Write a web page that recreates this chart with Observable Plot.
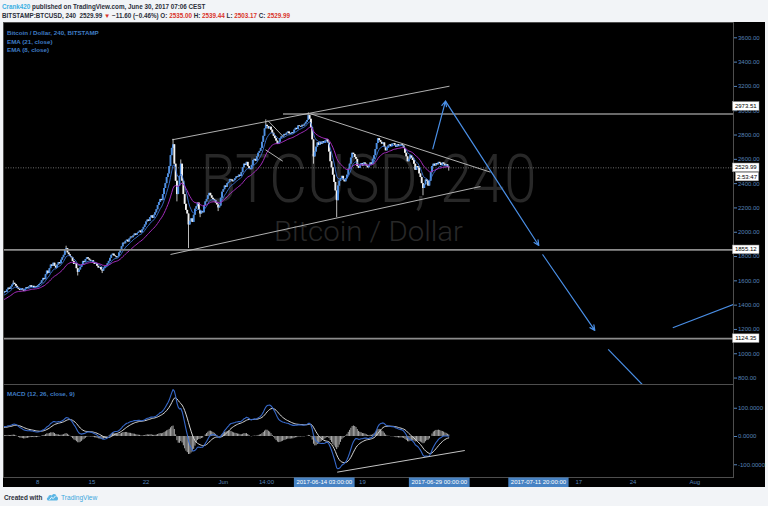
<!DOCTYPE html>
<html><head><meta charset="utf-8">
<script src="https://cdn.jsdelivr.net/npm/d3@7"></script>
<script src="https://cdn.jsdelivr.net/npm/@observablehq/plot@0.6"></script>
<style>
html,body{margin:0;padding:0;width:768px;height:506px;overflow:hidden;background:#f2f4f7;font-family:"Liberation Sans",Arial,sans-serif;}
.abs{position:absolute;white-space:nowrap;}
.hd{font-size:6.3px;font-weight:bold;color:#2a2e39;line-height:7px;}
.cy{color:#3bb0e3}
.rd{color:#d9342b}
.lg{font-size:6.2px;font-weight:bold;color:#3f7cc4;line-height:7px;}
#box{position:absolute;left:3px;top:22px;width:762px;height:465px;background:#000;}
#main{position:absolute;left:0;top:22px;}
#macd{position:absolute;left:0;top:384px;}
</style></head>
<body>
<div class="abs hd" style="left:2px;top:2.5px"><span class="cy">Crank420</span> published on TradingView.com, June 30, 2017 07:06 CEST</div>
<div class="abs hd" style="left:2px;top:12.3px">BITSTAMP:BTCUSD, 240&nbsp; 2529.99 <span class="rd">▼</span> −11.60 (−0.46%) O: <span class="rd">2535.00</span> H: <span class="rd">2539.44</span> L: <span class="rd">2503.17</span> C: <span class="rd">2529.99</span></div>
<div id="box"></div>
<div id="main"></div>
<div id="macd"></div>
<div class="abs lg" style="left:7px;top:28.8px;z-index:5">Bitcoin / Dollar, 240, BITSTAMP</div>
<div class="abs lg" style="left:7px;top:37.6px;z-index:5">EMA (21, close)</div>
<div class="abs lg" style="left:7px;top:46.4px;z-index:5">EMA (8, close)</div>
<div class="abs lg" style="left:7px;top:389.5px;z-index:5">MACD (12, 26, close, 9)</div>
<div class="abs hd" style="left:4px;top:493.5px;font-size:6.4px">Created with</div>
<svg class="abs" style="left:46px;top:492px" width="13" height="10" viewBox="0 0 13 10">
  <path d="M2.5,8.5 C0.5,8.5 0.3,5.6 2.3,5.2 C2.2,3 4.8,2.2 5.9,3.6 C6.8,1.4 10.3,1.6 10.4,4.4 C12.6,4.6 12.6,8.5 10.4,8.5 Z" fill="#5ab5e4"/>
  <path d="M3.5,7.8 L5.6,5.2 L7.2,6.6 L9.6,3.8" stroke="#fff" stroke-width="0.9" fill="none"/>
</svg>
<div class="abs" style="left:61px;top:493.5px;font-size:6.6px;color:#3aa7de;line-height:7px">TradingView</div>
<script>
// ---------- data ----------
const candleStart = "2017-05-03T12:00Z";      // first visible 4h candle
const warmupCloses = [1340,1355,1350,1345,1335,1330,1320,1325,1335,1340,1330,1345,1345,1350,1355,1348,1352,1350,1360,1375,1390,1410,1420,1425,1430,1440,1445,1450,1455,1460,1470,1465,1480,1475,1485,1490];
const closes = [
1495,1510,1505,1525,1540,1530,1550,1565,1580,1570,
1555,1540,1530,1520,1535,1525,1515,1530,1545,1540,
1550,1560,1545,1555,1540,1550,1545,1560,1570,1580,
1600,1620,1610,1650,1680,1660,1700,1730,1720,1745,
1720,1705,1730,1750,1740,1770,1790,1810,1850,1865,
1830,1815,1800,1790,1760,1735,1740,1700,1670,1690,
1710,1730,1760,1750,1775,1790,1780,1770,1760,1765,
1750,1735,1740,1720,1705,1710,1690,1680,1700,1715,
1725,1740,1760,1785,1810,1820,1805,1800,1790,1800,
1830,1855,1880,1910,1905,1925,1935,1920,1945,1960,
1955,1970,1985,1975,1990,2000,2010,1995,2020,2040,
2060,2085,2100,2090,2120,2135,2115,2140,2160,2185,
2220,2245,2270,2260,2310,2360,2400,2450,2480,2540,
2630,2690,2720,2560,2420,2310,2380,2460,2560,2420,
2310,2230,2180,2150,2060,2090,2110,2080,2140,2190,
2210,2240,2180,2150,2170,2160,2220,2250,2270,2300,
2320,2300,2280,2270,2260,2240,2225,2200,2215,2280,
2330,2350,2380,2370,2400,2410,2435,2430,2415,2425,
2440,2455,2450,2470,2460,2490,2530,2560,2550,2575,
2540,2525,2515,2550,2590,2600,2585,2620,2650,2665,
2690,2740,2790,2850,2880,2870,2850,2865,2840,2815,
2790,2770,2750,2725,2740,2770,2785,2790,2805,2800,
2815,2825,2810,2805,2820,2815,2840,2855,2845,2875,
2870,2865,2880,2875,2890,2905,2920,2960,2930,2860,
2760,2620,2660,2700,2735,2715,2740,2725,2745,2730,
2750,2760,2735,2660,2580,2530,2470,2410,2340,2260,
2380,2420,2440,2460,2430,2415,2440,2470,2520,2560,
2610,2650,2640,2615,2600,2540,2525,2550,2565,2545,
2570,2560,2545,2530,2550,2570,2560,2600,2630,2680,
2730,2770,2755,2740,2725,2735,2700,2670,2690,2710,
2720,2705,2725,2730,2715,2700,2720,2705,2715,2720,
2710,2690,2650,2620,2580,2600,2630,2610,2590,2560,
2510,2540,2530,2480,2450,2400,2360,2390,2430,2420,
2380,2420,2490,2540,2560,2545,2565,2555,2575,2565,
2550,2570,2560,2545,2555,2535,2529.99];
// notable wicks: candle index and the extreme price
const wickIdx   = [8,49,58,77,132,135,138,144,153,167,204,237,241,259,326,346,346];
const wickPrice = [1600,1885,1640,1660,2765,2250,2595,1866,2120,2170,2925,2982,2560,2120,2300,2539.44,2503.17];

const xDomain = ["2017-05-03T13:34Z","2017-08-06T00:04Z"];
const yDomain = [747,3726];
const yTicks = [800,1000,1200,1400,1600,1800,2000,2200,2400,2600,2800,3000,3200,3400,3600];
const macdDomain = [-145,184];
const macdTicks = [-100,0,100];
const xTickDates  = ["2017-05-08T00:00Z","2017-05-15T00:00Z","2017-05-22T00:00Z","2017-06-01T00:00Z","2017-06-06T14:00Z","2017-06-19T00:00Z","2017-07-17T00:00Z","2017-07-24T00:00Z","2017-08-01T00:00Z"];
const xTickLabels = ["8","15","22","Jun","14:00","19","17","24","Aug"];
const markedDates  = ["2017-06-14T03:00Z","2017-06-29T00:00Z","2017-07-11T20:00Z"];
const markedLabels = ["2017-06-14 03:00:00","2017-06-29 00:00:00","2017-07-11 20:00:00"];

const lastPrice = 2529.99;
const hLinePrices = [2973.51,1855.12,1124.35];
const hLineFrom   = ["2017-06-08T18:55Z","2017-05-01T00:00Z","2017-05-01T00:00Z"];
const boxPrices = [2973.51,2529.99,2529.99,1855.12,1124.35];
const boxTexts  = ["2973.51","2529.99","2:53:47","1855.12","1124.35"];
// drawn trend lines [date1, price1, date2, price2]
const grayLines = [
 ["2017-05-25T09:20Z",2760.8,"2017-06-30T06:15Z",3201.8],
 ["2017-05-25T04:04Z",1817.0,"2017-07-04T06:33Z",2376.5],
 ["2017-06-12T06:45Z",2974.7,"2017-07-05T13:36Z",2494.2],
 ["2017-06-06T18:10Z",2919.6,"2017-06-08T19:51Z",2782.2],
 ["2017-06-06T11:01Z",2678.5,"2017-06-08T16:44Z",2584.7]];
const blueArrows = [
 ["2017-06-28T02:27Z",2686.7,"2017-06-29T17:53Z",3078.4],
 ["2017-06-29T17:53Z",3078.4,"2017-07-11T19:34Z",1891.1],
 ["2017-07-12T07:58Z",1814.6,"2017-07-19T01:26Z",1191.7]];
const blueLines = [
 ["2017-07-20T19:02Z",1035.4,"2017-07-26T00:00Z",695],
 ["2017-07-29T03:36Z",1213.9,"2017-08-07T00:00Z",1430]];
const macdLine = [["2017-06-15T17:38Z",-126.1,"2017-07-02T05:48Z",-49.5]];
const wmMain = "BTCUSD, 240", wmSub = "Bitcoin / Dollar";

// ---------- build ----------
const H4 = 4*3600*1000, t0 = new Date(candleStart).getTime();
const all = warmupCloses.concat(closes), nW = warmupCloses.length;
const dates = all.map((c,i)=>new Date(t0+(i-nW)*H4));
const UP="#4c8fe4", DN="#f2f2f2", AXC="#5683b8";
const candles = closes.map((c,i)=>{const o = i===0?warmupCloses[nW-1]:closes[i-1];
  return {date:dates[i+nW],open:o,close:c,high:Math.max(o,c),low:Math.min(o,c),col:c>=o?UP:DN};});
wickIdx.forEach((k,j)=>{const c=candles[k];c.high=Math.max(c.high,wickPrice[j]);c.low=Math.min(c.low,wickPrice[j]);});
function ema(v,n){const k=2/(n+1);let e=v[0];return v.map((x,i)=>(e=i===0?x:x*k+e*(1-k)));}
const e21=ema(all,21), e8=ema(all,8), e12=ema(all,12), e26=ema(all,26);
const macd=e12.map((v,i)=>v-e26[i]); const sig=ema(macd,9);
const ser=(arr)=>arr.map((v,i)=>({date:dates[i],v}));
const hist=macd.map((v,i)=>({date:dates[i],v:v-sig[i]}));
const seg=(a)=>a.map(r=>({x1:new Date(r[0]),y1:r[1],x2:new Date(r[2]),y2:r[3]}));
const xd=xDomain.map(d=>new Date(d));
const font='"Liberation Sans",Arial,sans-serif';

const main = Plot.plot({
  width:768,height:362,marginLeft:3,marginRight:35,marginTop:0,marginBottom:0,
  style:{background:"transparent",fontFamily:font,fontSize:"6px",overflow:"visible"},
  x:{type:"utc",domain:xd,axis:null},
  y:{domain:yDomain},
  color:{type:"identity"},
  marks:[
    Plot.text([wmMain],{text:d=>d,frameAnchor:"middle",dy:-23,fontSize:66,fontFamily:"Roboto",fontWeight:300,fill:"#282828"}),
    Plot.text([wmSub],{text:d=>d,frameAnchor:"middle",dy:29,fontSize:27,fontFamily:"Roboto",fontWeight:300,fill:"#282828"}),
    Plot.ruleY([lastPrice],{stroke:"#8a8a8a",strokeWidth:0.8,strokeDasharray:"1,1.5"}),
    Plot.ruleX(candles,{x:"date",y1:"low",y2:"high",stroke:"#d0d0d0",strokeWidth:0.9,clip:true}),
    Plot.ruleX(candles,{x:"date",y1:"open",y2:"close",stroke:"col",strokeWidth:1.9,clip:true}),
    Plot.line(ser(e8),{x:"date",y:"v",stroke:"#3b74d6",strokeWidth:0.9,clip:true}),
    Plot.line(ser(e21),{x:"date",y:"v",stroke:"#a52dbf",strokeWidth:1,clip:true}),
    Plot.ruleY(hLinePrices.map((p,i)=>({p,x1:new Date(hLineFrom[i]),x2:xd[1]})),{y:"p",x1:"x1",x2:"x2",stroke:"#8c8c8c",strokeWidth:1.6,clip:true}),
    Plot.link(seg(grayLines),{x1:"x1",y1:"y1",x2:"x2",y2:"y2",stroke:"#c4c4c4",strokeWidth:0.9,clip:true}),
    Plot.arrow(seg(blueArrows),{x1:"x1",y1:"y1",x2:"x2",y2:"y2",stroke:"#4a8fe6",strokeWidth:1.2,headLength:7,headAngle:50,clip:true}),
    Plot.link(seg(blueLines),{x1:"x1",y1:"y1",x2:"x2",y2:"y2",stroke:"#4a8fe6",strokeWidth:1.2,clip:true}),
    Plot.frame({stroke:"#4e4e4e"}),
    Plot.axisY({anchor:"right",ticks:yTicks,tickFormat:d=>d.toFixed(2),tickSize:3,tickPadding:1.5,fontSize:6,color:AXC})
  ]
});
document.getElementById("main").appendChild(main);

const lbl=new Map(xTickDates.map((d,i)=>[+new Date(d),xTickLabels[i]]));
const macdPlot = Plot.plot({
  width:768,height:103,marginLeft:3,marginRight:35,marginTop:0,marginBottom:10,
  style:{background:"transparent",fontFamily:font,fontSize:"6px",overflow:"visible"},
  x:{type:"utc",domain:xd},
  y:{domain:macdDomain},
  marks:[
    Plot.ruleX(hist,{x:"date",y1:0,y2:"v",stroke:"#a9a9a9",strokeWidth:1,clip:true}),
    Plot.line(ser(sig),{x:"date",y:"v",stroke:"#d6d6d6",strokeWidth:1,clip:true}),
    Plot.line(ser(macd),{x:"date",y:"v",stroke:"#3668c9",strokeWidth:1.1,clip:true}),
    Plot.link(seg(macdLine),{x1:"x1",y1:"y1",x2:"x2",y2:"y2",stroke:"#c4c4c4",strokeWidth:1,clip:true}),
    Plot.frame({stroke:"#4e4e4e"}),
    Plot.axisY({anchor:"right",ticks:macdTicks,tickFormat:d=>d.toFixed(4),tickSize:3,tickPadding:1.5,fontSize:6,color:AXC}),
    Plot.axisX({anchor:"bottom",ticks:xTickDates.map(d=>new Date(d)),tickFormat:d=>lbl.get(+d),tickSize:0,tickPadding:2.5,fontSize:6,color:AXC})
  ]
});
document.getElementById("macd").appendChild(macdPlot);

// watermark widths
d3.select(main).selectAll("text").each(function(){
  const t=this.textContent;
  if(t===wmMain){this.setAttribute("textLength",336);this.setAttribute("lengthAdjust","spacingAndGlyphs");}
  if(t===wmSub){this.setAttribute("textLength",189);this.setAttribute("lengthAdjust","spacingAndGlyphs");}
});

// price label boxes on the right scale
const sy=main.scale("y"); const fy=sy.apply?v=>sy.apply(v):d3.scaleLinear(sy.domain,sy.range);
const g=d3.select(main).append("g").attr("font-family",font).attr("font-size",6);
const shift=[-7.5,0,9.2,0,0], bx=[732.5,732.5,735.5,732.5,732.5], bw=[26.5,26.5,23,26.5,26.5];
boxPrices.forEach((p,i)=>{
  const y=fy(p)+shift[i];
  g.append("rect").attr("x",bx[i]).attr("y",y-4.3).attr("width",bw[i]).attr("height",8.6).attr("fill","#fff").attr("stroke","#9a9a9a").attr("stroke-width",0.5);
  g.append("text").attr("x",bx[i]+bw[i]/2).attr("y",y).attr("dy","0.35em").attr("text-anchor","middle").attr("fill","#000").text(boxTexts[i]);
});
// highlighted dates on the time scale
const sx=macdPlot.scale("x"); const fx=sx.apply?v=>sx.apply(v):d3.scaleUtc(sx.domain,sx.range);
const g2=d3.select(macdPlot).append("g").attr("font-family",font).attr("font-size",6);
markedDates.forEach((d,i)=>{
  const x=fx(new Date(d));
  const r=g2.append("rect").attr("y",93.5).attr("height",9.5).attr("fill","#4782c3");
  const t=g2.append("text").attr("x",x).attr("y",98.3).attr("dy","0.35em").attr("text-anchor","middle").attr("fill","#fff").text(markedLabels[i]);
  const w=t.node().getComputedTextLength()+5;
  r.attr("x",x-w/2).attr("width",w);
});
</script>
</body></html>
